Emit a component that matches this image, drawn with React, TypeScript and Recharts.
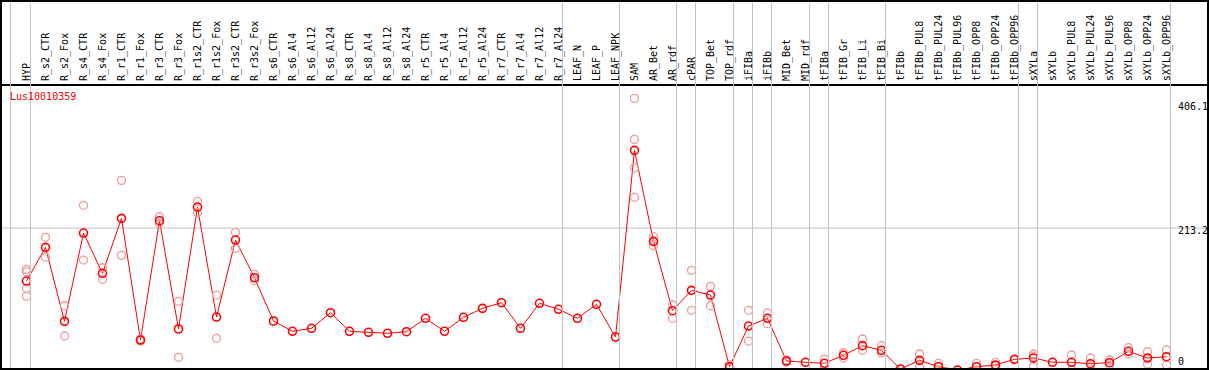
import { LineChart, Line, XAxis, YAxis, ReferenceLine } from "recharts";

const categories = [
  "HYP", "R_s2_CTR", "R_s2_Fox", "R_s4_CTR", "R_s4_Fox", "R_r1_CTR", "R_r1_Fox", "R_r3_CTR", "R_r3_Fox",
  "R_r1s2_CTR", "R_r1s2_Fox", "R_r3s2_CTR", "R_r3s2_Fox", "R_s6_CTR", "R_s6_Al4", "R_s6_Al12", "R_s6_Al24",
  "R_s8_CTR", "R_s8_Al4", "R_s8_Al12", "R_s8_Al24", "R_r5_CTR", "R_r5_Al4", "R_r5_Al12", "R_r5_Al24",
  "R_r7_CTR", "R_r7_Al4", "R_r7_Al12", "R_r7_Al24", "LEAF_N", "LEAF_P", "LEAF_NPK", "SAM", "AR_Bet", "AR_rdf",
  "cPAR", "TOP_Bet", "TOP_rdf", "iFIBa", "iFIBb", "MID_Bet", "MID_rdf", "tFIBa", "tFIB_Gr", "tFIB_Li", "tFIB_Bi",
  "tFIBb", "tFIBb_PUL8", "tFIBb_PUL24", "tFIBb_PUL96", "tFIBb_OPP8", "tFIBb_OPP24", "tFIBb_OPP96",
  "sXYLa", "sXYLb", "sXYLb_PUL8", "sXYLb_PUL24", "sXYLb_PUL96", "sXYLb_OPP8", "sXYLb_OPP24", "sXYLb_OPP96",
];

// mean expression per sample
const meanValues = [
  134.5, 184.6, 74.6, 205.9, 146.0, 227.7, 46.8, 224.2, 63.2, 244.5, 81.0, 195.5, 139.4, 75.1, 59.8, 64.2, 87.4,
  59.8, 58.3, 56.8, 59.2, 79.1, 59.8, 80.6, 93.9, 102.3, 64.2, 101.4, 92.5, 79.1, 99.9, 51.3, 328.8, 193.5, 90.4,
  120.7, 113.7, 7.1, 67.6, 79.1, 15.6, 13.7, 12.2, 24.1, 38.4, 31.5, 3.7, 16.6, 7.1, 2.2, 7.1, 9.7, 18.1,
  20.1, 13.7, 13.7, 11.6, 13.1, 30.0, 20.1, 22.0,
];

// individual replicates (empty where they sit on the mean)
const replicates: number[][] = [
  [151.9, 148.4, 123.7, 111.8], [199.5, 169.8], [97.8, 52.8], [247.1, 165.7], [154.3, 137.1], [284.2, 172.7],
  [48.3, 45.3], [230.1, 220.3], [104.4, 21.1], [253.0, 236.1], [113.7, 49.4], [206.9, 183.1], [144.5, 135.0],
  [], [], [], [], [], [], [], [], [], [], [], [], [], [], [], [], [], [], [],
  [406.1, 345.2, 302.9, 259.0], [200.4, 187.0], [98.9, 79.1], [150.4, 91.0], [126.6, 97.8], [9.7, 4.8],
  [91.0, 45.3], [87.0, 71.1], [17.1, 14.1], [], [18.1, 6.2], [27.9, 20.1], [48.3, 31.5], [38.4, 27.5],
  [], [26.0, 7.1], [12.2, 2.2], [], [12.2, 2.2], [13.7, 8.2], [],
  [26.0, 23.0, 7.1], [], [24.5, 2.2], [20.1, 3.3], [17.1, 9.7], [35.4, 26.0], [29.4, 11.1], [32.0, 9.7],
];

const yTicks = [0, 213.2, 406.1];
const groupEnds = [
  "HYP", "R_r7_Al24", "LEAF_NPK", "AR_rdf", "cPAR", "TOP_rdf", "iFIBa", "iFIBb", "MID_rdf", "tFIBa",
  "tFIB_Bi", "tFIBb_OPP96", "sXYLa", "sXYLb_OPP96",
];
const geneId = "Lus10010359";

const repKeys = ["r0", "r1", "r2", "r3"];
const rows = categories.map((name, i) => {
  const row: Record<string, string | number> = { name, mean: meanValues[i] };
  replicates[i].forEach((v, j) => (row[repKeys[j]] = v));
  return row;
});

const GRID = "#c4c4c4";
const FONT = "'DejaVu Sans Mono', monospace";

function CatTick({ x, y, payload }: any) {
  const sep = groupEnds.includes(payload.value);
  const first = categories.indexOf(payload.value) === 0;
  const lx = Math.floor(x + 4) + 0.5;
  return (
    <g>
      {first && <line x1={lx - 20} x2={lx - 20} y1={0} y2={372} stroke={GRID} />}
      {sep && <line x1={lx} x2={lx} y1={0} y2={372} stroke={GRID} />}
      <text
        x={x + 3}
        y={y - 2}
        transform={`rotate(-90 ${x + 3} ${y - 2})`}
        fontSize={10}
        fontFamily={FONT}
        fill="#000"
      >
        {payload.value}
      </text>
    </g>
  );
}

function ValTick({ x, y, payload, index }: any) {
  const dy = [-9.5, 3, 8.7][index] ?? 0;
  return (
    <text x={x - 29} y={y + dy} textAnchor="start" dominantBaseline="middle" fontSize={10} fontFamily={FONT} fill="#000">
      {payload.value}
    </text>
  );
}

export default function App() {
  return (
    <div style={{ position: "absolute", left: 0, top: 0, width: 1209, height: 370, overflow: "hidden", background: "#fff" }}>
      <LineChart width={1209} height={380} data={rows} margin={{ top: 0, right: 1, bottom: 8.5, left: 2 }}>
        <XAxis
          dataKey="name"
          orientation="top"
          scale="point"
          height={85}
          interval={0}
          padding={{ left: 24.5, right: 40.5 }}
          tickSize={0}
          tickLine={false}
          axisLine={{ stroke: "#000", strokeWidth: 2 }}
          tick={<CatTick />}
        />
        <YAxis
          orientation="right"
          width={1}
          domain={[0, 426]}
          ticks={yTicks}
          allowDataOverflow
          interval={0}
          tickSize={0}
          tickMargin={0}
          tickLine={false}
          axisLine={false}
          tick={<ValTick />}
        />
        <ReferenceLine y={213.2} stroke={GRID} />
        {repKeys.map((k) => (
          <Line
            key={k}
            dataKey={k}
            stroke="none"
            isAnimationActive={false}
            dot={{ r: 4, stroke: "#f09a9a", strokeWidth: 1.3, fill: "none" }}
            activeDot={false}
          />
        ))}
        <Line
          dataKey="mean"
          stroke="#ff0000"
          strokeWidth={1}
          isAnimationActive={false}
          dot={{ r: 4, stroke: "#ff0000", strokeWidth: 1.6, fill: "none" }}
          activeDot={false}
        />
      </LineChart>
      <div
        style={{
          position: "absolute", left: 10, top: 91, color: "#ff0000",
          fontFamily: FONT, fontSize: 10, lineHeight: "12px",
        }}
      >
        {geneId}
      </div>
      <div style={{ position: "absolute", inset: 0, border: "2px solid #000", boxSizing: "border-box", pointerEvents: "none" }} />
    </div>
  );
}
